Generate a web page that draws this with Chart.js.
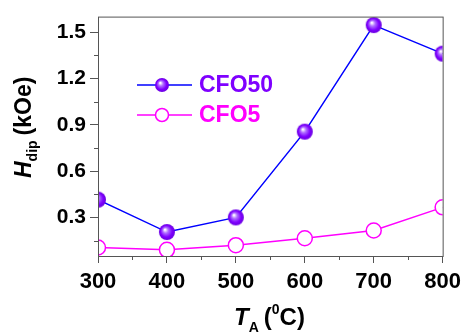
<!DOCTYPE html>
<html>
<head>
<meta charset="utf-8">
<script src="https://cdn.jsdelivr.net/npm/chart.js@4"></script>
<style>
  html, body { margin:0; padding:0; background:#fff; }
  #wrap { width:467px; height:334px; }
</style>
</head>
<body>
<div id="wrap"><canvas id="grafico"></canvas></div>
<script>
// data
const temps = [300, 400, 500, 600, 700, 800];
const cfo50 = [0.415, 0.205, 0.30, 0.855, 1.545, 1.36];
const cfo5  = [0.105, 0.09, 0.12, 0.165, 0.215, 0.365];
const yTicks = [0.3, 0.6, 0.9, 1.2, 1.5];
const xTicks = [300, 400, 500, 600, 700, 800];
const yMinor = [0.15, 0.45, 0.75, 1.05, 1.35];
const xMinor = [350, 450, 550, 650, 750];

const FONT = "Liberation Sans, Arial, sans-serif";
const frameCol = "#555";

// purple ball marker
function bola(r){
  const c = document.createElement("canvas");
  c.width = c.height = r*2+2;
  const g = c.getContext("2d");
  const cx = r+1, cy = r+1;
  const grad = g.createRadialGradient(cx-r*0.25, cy-r*0.3, 0.5, cx, cy, r);
  grad.addColorStop(0, "#ffffff");
  grad.addColorStop(0.3, "#b070ff");
  grad.addColorStop(0.7, "#7f00ff");
  grad.addColorStop(1, "#6a00e0");
  g.fillStyle = grad;
  g.beginPath(); g.arc(cx, cy, r, 0, Math.PI*2); g.fill();
  return c;
}
const bolaG = bola(8);
const bolaP = bola(7);

// frame, minor ticks, titles, legend
const extras = {
  id:"extras",
  afterDraw(chart){
    const ctx = chart.ctx, a = chart.chartArea;
    const sx = chart.scales.x, sy = chart.scales.y;
    ctx.save();
    ctx.strokeStyle = frameCol;
    ctx.lineWidth = 1;
    ctx.strokeRect(a.left+0.5, a.top+0.5, a.right-a.left, a.bottom-a.top);
    ctx.beginPath();
    yMinor.forEach(v=>{
      const y = Math.round(sy.getPixelForValue(v))+0.5;
      ctx.moveTo(a.left-4, y); ctx.lineTo(a.left, y);
    });
    xMinor.forEach(v=>{
      const x = Math.round(sx.getPixelForValue(v))+0.5;
      ctx.moveTo(x, a.bottom); ctx.lineTo(x, a.bottom+4);
    });
    ctx.stroke();

    // x title
    ctx.fillStyle = "#000";
    ctx.textBaseline = "alphabetic";
    let x = 234, y = 325;
    ctx.font = "italic bold 24px " + FONT;
    ctx.fillText("T", x, y); x += ctx.measureText("T").width;
    ctx.font = "bold 14px " + FONT;
    ctx.fillText("A", x, y+7); x += ctx.measureText("A").width + 5;
    ctx.font = "bold 24px " + FONT;
    ctx.fillText("(", x, y); x += ctx.measureText("(").width;
    ctx.font = "bold 14px " + FONT;
    ctx.fillText("0", x, y-11); x += ctx.measureText("0").width;
    ctx.font = "bold 24px " + FONT;
    ctx.fillText("C)", x, y);

    // y title
    ctx.save();
    ctx.translate(31, 178);
    ctx.rotate(-Math.PI/2);
    x = 0; y = 0;
    ctx.font = "italic bold 23px " + FONT;
    ctx.fillText("H", x, y); x += ctx.measureText("H").width;
    ctx.font = "bold 14px " + FONT;
    ctx.fillText("dip", x, y+6); x += ctx.measureText("dip").width + 5;
    ctx.font = "bold 23px " + FONT;
    ctx.fillText("(kOe)", x, y);
    ctx.restore();

    // legend
    const itens = [
      {txt:"CFO50", line:"#0000ff", col:"#7f00ff", y:85, filled:true},
      {txt:"CFO5", line:"#ff00ff", col:"#ff00ff", y:115, filled:false}
    ];
    itens.forEach(it=>{
      ctx.strokeStyle = it.line;
      ctx.lineWidth = 1.5;
      ctx.beginPath(); ctx.moveTo(137, it.y); ctx.lineTo(192, it.y); ctx.stroke();
      if(it.filled){
        ctx.drawImage(bolaP, 162-8, it.y-8);
      } else {
        ctx.fillStyle = "#fff";
        ctx.beginPath(); ctx.arc(162, it.y, 6.5, 0, Math.PI*2); ctx.fill(); ctx.stroke();
      }
      ctx.fillStyle = it.col;
      ctx.font = "bold 23px " + FONT;
      ctx.textBaseline = "middle";
      ctx.fillText(it.txt, 199, it.y+1);
    });
    ctx.restore();
  }
};

new Chart(document.getElementById("grafico"), {
  type:"line",
  data:{
    datasets:[
      {
        label:"CFO50",
        data: temps.map((t,i)=>({x:t, y:cfo50[i]})),
        borderColor:"#0000ff",
        borderWidth:1.5,
        pointStyle: bolaG,
        pointRadius:8,
        clip:0,
        order:0
      },
      {
        label:"CFO5",
        data: temps.map((t,i)=>({x:t, y:cfo5[i]})),
        borderColor:"#ff00ff",
        borderWidth:1.5,
        pointBackgroundColor:"#fff",
        pointBorderColor:"#ff00ff",
        pointBorderWidth:1.5,
        pointRadius:7.5,
        clip:0,
        order:1
      }
    ]
  },
  options:{
    responsive:true,
    maintainAspectRatio:false,
    animation:false,
    events:[],
    layout:{ padding:{ top:11, right:22, left:0, bottom:0 } },
    plugins:{ legend:{display:false}, tooltip:{enabled:false} },
    scales:{
      x:{
        type:"linear",
        min:300, max:800,
        afterBuildTicks(s){ s.ticks = xTicks.map(v=>({value:v})); },
        afterFit(s){ s.height = 78; },
        border:{ display:false },
        grid:{ drawOnChartArea:false, tickLength:7, color:frameCol },
        ticks:{ color:"#000", padding:6, maxRotation:0, font:{family:FONT, size:22, weight:"bold"} }
      },
      y:{
        min:0.05, max:1.6,
        afterBuildTicks(s){ s.ticks = yTicks.map(v=>({value:v})); },
        afterFit(s){ s.width = 98; },
        border:{ display:false },
        grid:{ drawOnChartArea:false, tickLength:8, color:frameCol },
        ticks:{ color:"#000", padding:4, font:{family:FONT, size:21, weight:"bold"},
          callback:v=>v.toFixed(1) }
      }
    }
  },
  plugins:[extras]
});
</script>
</body>
</html>
